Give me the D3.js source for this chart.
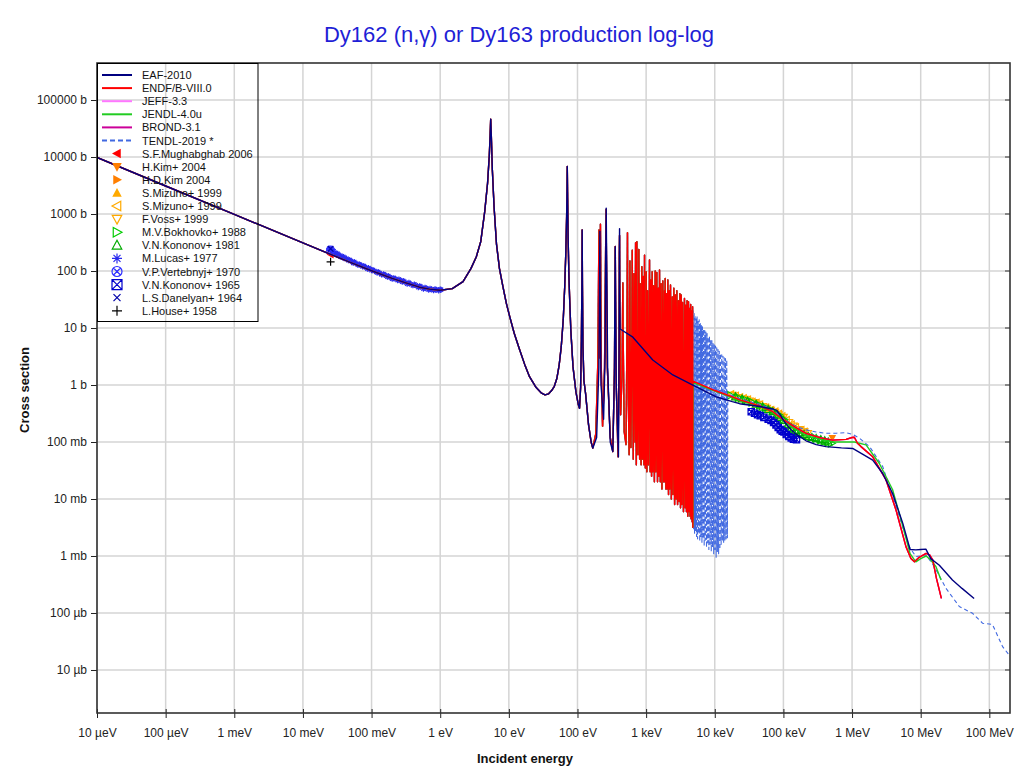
<!DOCTYPE html>
<html><head><meta charset="utf-8">
<script src="https://cdn.jsdelivr.net/npm/d3@7"></script>
<style>
body{margin:0;background:#fff}
text{font-family:"Liberation Sans",Arial,sans-serif}
</style>
</head><body>
<svg id="c" width="1020" height="774"></svg>
<script>
// ---------------- DATA (energy in eV, cross section in barns) ----------------
const xTickValues = [1e-5,1e-4,1e-3,1e-2,1e-1,1,10,100,1e3,1e4,1e5,1e6,1e7,1e8];
const xTickLabels = ["10 µeV","100 µeV","1 meV","10 meV","100 meV","1 eV","10 eV","100 eV","1 keV","10 keV","100 keV","1 MeV","10 MeV","100 MeV"];
const yTickValues = [1e-5,1e-4,1e-3,1e-2,1e-1,1,10,100,1e3,1e4,1e5];
const yTickLabels = ["10 µb","100 µb","1 mb","10 mb","100 mb","1 b","10 b","100 b","1000 b","10000 b","100000 b"];

// thermal + first resonances (shared by evaluations)
const endfLow = [[1e-5,9800],[1e-4,3100],[1e-3,985],[0.01,312],[0.0253,196],[0.05,140],[0.1,101],[0.2,74],[0.3,63],[0.5,52],[0.7,48],[1.0,46],[1.5,49],[2.15,65],[2.8,110],[3.36,178],[3.9,330],[4.45,1100],[4.9,3500],[5.2,11000],[5.35,26000],[5.44,46000],[5.55,24000],[5.75,6000],[6.1,1300],[6.6,300],[7.3,110],[8.2,53],[9.2,27],[10.3,15.8],[12,8],[14.4,4.1],[17,2.3],[20,1.4],[25,0.9],[30,0.72],[33.6,0.67],[38,0.7],[42,0.8],[46,0.95],[50,1.3],[54,2.2],[58,4.7],[62,14],[65,50],[67.5,200],[69.5,900],[70.5,3000],[71,6800],[71.6,2500],[73,400],[75,80],[77,31],[80,9],[86,2.1],[95,0.75],[103,0.45],[107,0.39],[111,0.9],[114,6],[116,60],[117,525],[118,60],[120,5],[124,1.2],[131,0.72],[145,0.2],[158,0.1],[167,0.078]];

// ENDF/B-VIII.0 resolved resonances 185 eV - 4.79 keV
const endfRes = [[185,0.14],[198,2.5],[203,90],[206,525],[208,60],[210,3],[212,12],[214,160],[216,660],[218,90],[221,2.5],[232,0.19],[248,2],[256,150],[261,1200],[264,180],[272,2],[300,0.12],[327,0.068],[346,2],[352,60],[355,270],[358,50],[366,1.2],[390,0.055],[403,3],[407,180],[410,420],[413,30],[425,0.3],[446,1.5],[454,20],[458,62],[462,8],[480,0.15],[510,0.09],[526,8],[532,150],[535,470],[538,60],[550,0.6],[566,0.06],[576,20],[580,150],[584,10],[600,0.08],[620,10],[628,232],[634,5],[650,0.05],[660,8],[665,90],[670,3],[690,0.1],[697,30],[702,313],[708,2],[720,0.04],[728,40],[733,326],[739,3],[760,0.06],[778,30],[783,240],[790,2],[805,0.05],[816,8],[820,60],[825,1],[845,0.04],[862,15],[866,119],[872,1],[888,0.05],[902,10],[905,80],[910,1],[930,0.04],[945,25],[948,190],[953,2],[975,0.035],[1000,12],[1003,97],[1008,1],[1025,0.03],[1050,45],[1080,0.04],[1120,156],[1145,0.03],[1170,70],[1200,0.025],[1226,97],[1255,0.03],[1290,55],[1320,0.02],[1356,100],[1390,0.03],[1430,94],[1465,0.02],[1500,50],[1535,0.025],[1567,104],[1610,0.02],[1650,60],[1700,0.015],[1750,67],[1800,0.02],[1850,45],[1870,0.02],[1895,74],[1940,0.015],[1980,40],[2020,0.015],[2070,70],[2120,0.012],[2165,45],[2215,0.015],[2265,57],[2330,0.01],[2400,35],[2460,0.012],[2530,50],[2600,0.008],[2660,38],[2730,0.01],[2800,45],[2870,0.008],[2950,30],[3020,0.009],[3100,40],[3170,0.007],[3240,38],[3320,0.008],[3400,28],[3500,0.006],[3620,33],[3700,0.007],[3800,25],[3870,0.006],[3950,30],[4040,0.005],[4140,29],[4220,0.006],[4300,22],[4370,0.005],[4450,26],[4520,0.0045],[4600,20],[4690,0.004],[4750,23.6],[4790,0.0032]];

const endfHigh = [[4790,1.17],[10000,0.8],[18000,0.62],[23000,0.55],[45000,0.43],[70000,0.34],[98000,0.25],[150000,0.18],[214000,0.142],[350000,0.118],[522000,0.108],[818000,0.111],[1000000,0.12],[1080000,0.121],[1200000,0.095],[1350000,0.083],[2000000,0.055],[3130000,0.0216],[4370000,0.0064],[6100000,0.00146],[7200000,0.0009],[8100000,0.00079],[9500000,0.00095],[12000000,0.00111],[13500000,0.00105],[15000000,0.00085],[17000000,0.0004],[20000000,0.00018]];

// EAF-2010
const eafMid = [[190,0.12],[205,2],[210,100],[212,500],[214,60],[220,1],[240,0.25],[252,3],[258,200],[262,1270],[266,150],[275,2],[300,0.1],[327,0.068],[345,1.5],[351,50],[355,266],[359,30],[368,0.8],[395,0.055],[404,5],[408,200],[410,550],[412,40],[418,9.6]];
const eafHigh = [[641,6.9],[1250,2.75],[2450,1.5],[4790,1.0],[10500,0.62],[18000,0.51],[23000,0.47],[45000,0.42],[70000,0.38],[80000,0.36],[90000,0.3],[100000,0.24],[120000,0.18],[150000,0.14],[214000,0.105],[300000,0.09],[417000,0.083],[700000,0.079],[1020000,0.077],[1400000,0.062],[2000000,0.048],[2800000,0.028],[3900000,0.0125],[5500000,0.0037],[7000000,0.0013],[8500000,0.00128],[10000000,0.0013],[11900000,0.00132],[14000000,0.0009],[18700000,0.00069],[29000000,0.00038],[40000000,0.00027],[60000000,0.00018]];

// JENDL-4.0u above resolved range
const jendlHigh = [[4830,0.0035],[4840,1.1],[10000,0.78],[18000,0.6],[23000,0.54],[45000,0.42],[70000,0.33],[98000,0.235],[150000,0.165],[214000,0.13],[350000,0.11],[522000,0.1],[818000,0.1],[1080000,0.1],[1600000,0.089],[2500000,0.042],[3900000,0.0145],[5500000,0.0033],[7000000,0.0011],[8500000,0.00079],[10000000,0.0009],[12000000,0.001],[14000000,0.00085],[16700000,0.00065],[19800000,0.00038]];

// TENDL-2019 extra resonances and high energy
const tendlRes = [[4850,20],[4920,0.003],[5000,18],[5080,0.0025],[5160,17],[5250,0.0028],[5340,15],[5430,0.0022],[5520,16],[5620,0.002],[5720,13],[5820,0.0025],[5930,14],[6040,0.0018],[6150,12],[6260,0.0022],[6380,11],[6500,0.0017],[6620,10.5],[6750,0.002],[6880,9.5],[7010,0.0015],[7150,9],[7290,0.0019],[7430,8.5],[7580,0.0014],[7730,8],[7880,0.0017],[8040,7],[8200,0.0013],[8370,7.2],[8540,0.0016],[8710,6.3],[8890,0.0012],[9070,6],[9260,0.0014],[9450,5.5],[9650,0.0011],[9850,5.2],[10050,0.0013],[10260,4.8],[10470,0.00095],[10690,4.5],[10920,0.0012],[11150,4.2],[11380,0.0011],[11620,3.9],[11870,0.0013],[12120,3.6],[12380,0.0016],[12640,3.4],[12910,0.0018],[13180,3.2],[13460,0.0017],[13750,3],[14040,0.0019],[14340,2.9],[14640,0.002],[14950,2.75],[15270,0.0021]];
const tendlHigh = [[15500,0.7],[23000,0.58],[35000,0.5],[45000,0.46],[70000,0.37],[98000,0.26],[150000,0.19],[214000,0.163],[300000,0.15],[417000,0.142],[600000,0.143],[818000,0.146],[1020000,0.136],[1300000,0.115],[1800000,0.083],[2800000,0.037],[4370000,0.0073],[6800000,0.00146],[8500000,0.00098],[10000000,0.001],[12000000,0.00104],[15800000,0.00065],[23400000,0.00027],[36500000,0.00013],[57000000,0.0000986],[80000000,0.000066],[111000000,0.000063],[156000000,0.0000257],[200000000,0.0000175]];

// experimental data
const mughabghab2006 = [[0.0253,194]];
const hkim2004 = [[516000,0.118]];
const hdkim2004 = [[80000,0.31],[88000,0.29]];
const mizuno1999a = [[20000,0.63],[30000,0.55],[50000,0.43],[70000,0.36],[100000,0.27]];
const mizuno1999b = [[17000,0.68],[20000,0.64],[23000,0.6],[26000,0.58],[30000,0.55],[35000,0.5],[40000,0.48],[45000,0.45],[55000,0.4],[65000,0.36],[75000,0.34],[85000,0.31],[95000,0.28],[110000,0.24],[130000,0.2],[150000,0.18],[180000,0.16],[200000,0.15]];
const voss1999 = [[18000,0.66],[22000,0.6],[27000,0.56],[32000,0.52],[37000,0.49],[42000,0.46],[50000,0.42],[57000,0.39],[65000,0.36],[75000,0.33],[85000,0.3],[100000,0.27],[120000,0.22],[140000,0.19],[170000,0.165],[200000,0.15],[225000,0.14]];
const bokhovko1988 = [[17000,0.66],[22000,0.6],[28000,0.55],[35000,0.5],[45000,0.44],[55000,0.4],[70000,0.35],[85000,0.3],[100000,0.25],[120000,0.2],[140000,0.17],[165000,0.15],[190000,0.14],[220000,0.13],[260000,0.12],[300000,0.115],[350000,0.108],[400000,0.103],[450000,0.1],[500000,0.095]];
const kononov1981 = [[20000,0.62],[25000,0.57],[30000,0.52],[40000,0.46],[50000,0.41],[60000,0.37],[70000,0.34],[80000,0.3],[90000,0.27],[100000,0.24],[115000,0.2],[130000,0.175],[150000,0.16],[170000,0.145],[200000,0.135],[230000,0.125],[260000,0.12],[300000,0.115],[350000,0.11],[400000,0.105],[450000,0.1]];
const lucas1977 = [[0.024,245],[0.025,230],[0.026,238],[0.027,215],[0.028,222],[0.029,209],[0.031,196],[0.032,200],[0.033,192],[0.035,180],[0.037,181],[0.039,176],[0.04,168],[0.043,165],[0.046,154],[0.048,156],[0.05,150],[0.054,139],[0.056,144],[0.058,138],[0.063,129],[0.066,131],[0.068,128],[0.074,120],[0.077,122],[0.08,118],[0.087,110],[0.09,113],[0.095,108],[0.1,103],[0.105,104],[0.11,100],[0.12,94],[0.125,96],[0.13,92],[0.14,87],[0.15,88],[0.155,85],[0.17,79],[0.175,82],[0.185,78],[0.2,73],[0.21,75],[0.22,73],[0.24,69],[0.25,71],[0.26,69],[0.28,65],[0.29,67],[0.3,65],[0.33,60],[0.35,62],[0.36,60],[0.4,56],[0.42,58],[0.44,56],[0.48,52],[0.5,54],[0.52,53],[0.57,49],[0.6,51],[0.62,50],[0.68,47],[0.71,49],[0.74,48],[0.8,46],[0.84,48],[0.87,47],[0.95,45.5],[1.0,47.5],[1.03,47]];
const vertebnyj1970 = [[0.0253,232]];
const kononov1965 = [[34000,0.34],[38000,0.32],[42000,0.3],[46000,0.29],[52000,0.27],[60000,0.25],[66000,0.24],[72000,0.22],[78000,0.2],[84000,0.18],[90000,0.165],[96000,0.155],[102000,0.15],[110000,0.135],[120000,0.125],[130000,0.118],[140000,0.112],[155000,0.11]];
const danelyan1964 = [[0.0253,245]];
const house1958 = [[0.0253,145]];

// ---------------- CHART ----------------
const svg = d3.select("#c");
const L = 97, R = 1010, T = 63, B = 713;
const x = d3.scaleLog().domain([1e-5, 2e8]).range([L, R]);
const y = d3.scaleLog().domain([1.76e-6, 4.46e5]).range([B, T]);

svg.append("text").attr("x", 519).attr("y", 42).attr("text-anchor", "middle")
  .attr("font-size", 22).attr("fill", "#1f1fd6").text("Dy162 (n,γ) or Dy163 production log-log");

// grid
const grid = svg.append("g").attr("stroke", "#d4d4d4").attr("stroke-width", 1.5);
xTickValues.forEach(v => grid.append("line").attr("x1", x(v)).attr("x2", x(v)).attr("y1", T).attr("y2", B));
yTickValues.forEach(v => grid.append("line").attr("y1", y(v)).attr("y2", y(v)).attr("x1", L).attr("x2", R));

svg.append("defs").append("clipPath").attr("id", "clip")
  .append("rect").attr("x", L).attr("y", T).attr("width", R - L).attr("height", B - T);

// axes
const xAxis = d3.axisBottom(x).tickValues(xTickValues).tickFormat((d, i) => xTickLabels[i]).tickSize(5).tickPadding(10);
const gx = svg.append("g").attr("transform", `translate(0,${B})`).call(xAxis);
gx.select(".domain").remove();
gx.selectAll(".tick line").attr("y1", -4).attr("stroke", "#222");
gx.selectAll("text").attr("font-size", 12).attr("fill", "#222").attr("font-family", "Liberation Sans, Arial, sans-serif");
const yAxis = d3.axisLeft(y).tickValues(yTickValues).tickFormat((d, i) => yTickLabels[i]).tickSize(6).tickPadding(4);
const gy = svg.append("g").attr("transform", `translate(${L},0)`).call(yAxis);
gy.select(".domain").remove();
gy.selectAll(".tick line").attr("stroke", "#222");
gy.selectAll("text").attr("font-size", 12).attr("fill", "#222").attr("font-family", "Liberation Sans, Arial, sans-serif");
// right inward ticks
const rt = svg.append("g").attr("stroke", "#333").attr("stroke-width", 1);
yTickValues.forEach(v => rt.append("line").attr("x1", R - 5).attr("x2", R).attr("y1", y(v)).attr("y2", y(v)));

svg.append("text").attr("x", 525).attr("y", 763).attr("text-anchor", "middle")
  .attr("font-size", 13).attr("font-weight", "bold").attr("fill", "#111").text("Incident energy");
svg.append("text").attr("transform", "translate(29,390) rotate(-90)").attr("text-anchor", "middle")
  .attr("font-size", 13).attr("font-weight", "bold").attr("fill", "#111").text("Cross section");

// markers
function sym(t, r) {
  const a = r * 0.95, b = r * 0.75, k = r * 0.7;
  switch (t) {
    case "triU": return `M0,${-r}L${a},${b}L${-a},${b}Z`;
    case "triD": return `M0,${r}L${a},${-b}L${-a},${-b}Z`;
    case "triL": return `M${-r},0L${b},${-a}L${b},${a}Z`;
    case "triR": return `M${r},0L${-b},${-a}L${-b},${a}Z`;
    case "ast": return `M${-r},0H${r}M0,${-r}V${r}M${-k},${-k}L${k},${k}M${-k},${k}L${k},${-k}`;
    case "circx": return `M${r},0A${r},${r} 0 1,1 ${-r},0A${r},${r} 0 1,1 ${r},0ZM${-k},${-k}L${k},${k}M${-k},${k}L${k},${-k}`;
    case "sqx": return `M${-r},${-r}H${r}V${r}H${-r}ZM${-r},${-r}L${r},${r}M${r},${-r}L${-r},${r}`;
    case "x": return `M${-k},${-k}L${k},${k}M${-k},${k}L${k},${-k}`;
    case "plus": return `M${-r},0H${r}M0,${-r}V${r}`;
  }
}

const lineSeries = [
  {name: "EAF-2010", color: "#000080", data: endfLow.concat(eafMid, eafHigh)},
  {name: "ENDF/B-VIII.0", color: "#ff0000", data: endfLow.concat(endfRes, endfHigh)},
  {name: "JEFF-3.3", color: "#ff77ff", data: endfLow.concat(endfRes, endfHigh)},
  {name: "JENDL-4.0u", color: "#22cc22", data: endfLow.concat(endfRes, jendlHigh)},
  {name: "BROND-3.1", color: "#cc0099", data: endfLow.concat(endfRes, endfHigh)},
  {name: "TENDL-2019 *", color: "#4169e1", dash: "4,3", data: endfLow.concat(endfRes, tendlRes, tendlHigh)}
];
const expSeries = [
  {name: "S.F.Mughabghab 2006", s: "triL", fill: true, color: "#ff0000", data: mughabghab2006},
  {name: "H.Kim+ 2004", s: "triD", fill: true, color: "#ff7f00", data: hkim2004},
  {name: "H.D.Kim 2004", s: "triR", fill: true, color: "#ff7f00", data: hdkim2004},
  {name: "S.Mizuno+ 1999", s: "triU", fill: true, color: "#ffaa00", data: mizuno1999a},
  {name: "S.Mizuno+ 1999", s: "triL", fill: false, color: "#ffaa00", data: mizuno1999b},
  {name: "F.Voss+ 1999", s: "triD", fill: false, color: "#ffaa00", data: voss1999},
  {name: "M.V.Bokhovko+ 1988", s: "triR", fill: false, color: "#00cc00", data: bokhovko1988},
  {name: "V.N.Kononov+ 1981", s: "triU", fill: false, color: "#00aa00", data: kononov1981},
  {name: "M.Lucas+ 1977", s: "ast", fill: false, color: "#2a2aee", data: lucas1977, r: 3},
  {name: "V.P.Vertebnyj+ 1970", s: "circx", fill: false, color: "#2e2eff", data: vertebnyj1970},
  {name: "V.N.Kononov+ 1965", s: "sqx", fill: false, color: "#0000cc", data: kononov1965, r: 3.2},
  {name: "L.S.Danelyan+ 1964", s: "x", fill: false, color: "#0000aa", data: danelyan1964},
  {name: "L.House+ 1958", s: "plus", fill: false, color: "#000000", data: house1958}
];

const plot = svg.append("g").attr("clip-path", "url(#clip)");
const mk = plot.append("g");
expSeries.forEach(s => {
  mk.selectAll(null).data(s.data).enter().append("path")
    .attr("transform", d => `translate(${x(d[0])},${y(d[1])})`)
    .attr("d", sym(s.s, s.r || 4))
    .attr("fill", s.fill ? s.color : "none")
    .attr("stroke", s.fill ? "none" : s.color).attr("stroke-width", 1.2);
});

const line = d3.line().x(d => x(d[0])).y(d => y(d[1]));
const drawOrder = [5, 2, 4, 3, 1, 0];
drawOrder.forEach(i => {
  const s = lineSeries[i];
  plot.append("path").datum(s.data).attr("d", line).attr("fill", "none")
    .attr("stroke", s.color).attr("stroke-width", s.dash ? 1.1 : 1.4)
    .attr("stroke-dasharray", s.dash || null).attr("stroke-linejoin", "round");
});

// frame
svg.append("rect").attr("x", L).attr("y", T).attr("width", R - L).attr("height", B - T)
  .attr("fill", "none").attr("stroke", "#333").attr("stroke-width", 1.6);

// legend
const lg = svg.append("g");
lg.append("rect").attr("x", 97.5).attr("y", 63.5).attr("width", 160.5).attr("height", 258)
  .attr("fill", "none").attr("stroke", "#000").attr("stroke-width", 1);
const rowY = i => 75 + i * 13.1;
lineSeries.forEach((s, i) => {
  lg.append("line").attr("x1", 102).attr("x2", 132).attr("y1", rowY(i)).attr("y2", rowY(i))
    .attr("stroke", s.color).attr("stroke-width", 2).attr("stroke-dasharray", s.dash ? "5,3" : null);
  lg.append("text").attr("x", 142).attr("y", rowY(i) + 4).attr("font-size", 11).attr("fill", "#111").text(s.name);
});
expSeries.forEach((s, j) => {
  const i = j + lineSeries.length;
  lg.append("path").attr("transform", `translate(117,${rowY(i)})`).attr("d", sym(s.s, 5))
    .attr("fill", s.fill ? s.color : "none").attr("stroke", s.fill ? "none" : s.color).attr("stroke-width", 1.2);
  lg.append("text").attr("x", 142).attr("y", rowY(i) + 4).attr("font-size", 11).attr("fill", "#111").text(s.name);
});
</script>
</body></html>
